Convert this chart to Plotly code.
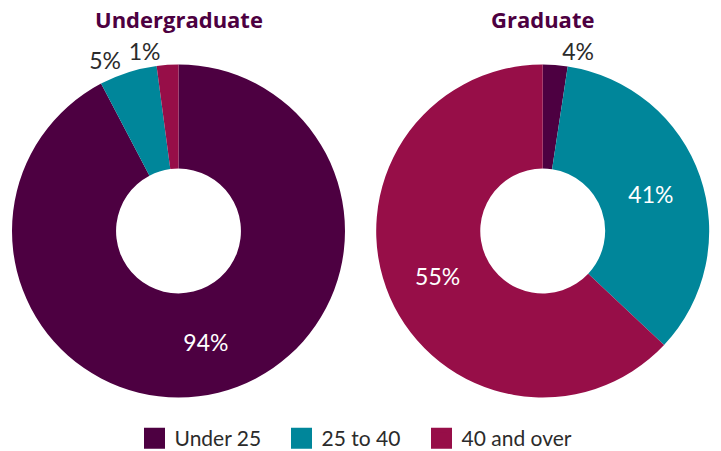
import plotly.graph_objects as go

# age bands shown in the legend
age_bands = ["Under 25", "25 to 40", "40 and over"]
colors = ["#4d0041", "#00869a", "#970e48"]

# slice sizes as drawn, and the printed labels
undergrad_share = [92.3, 5.6, 2.1]
undergrad_text = ["94%", "5%", "1%"]

grad_share = [2.4, 34.6, 63.0]
grad_text = ["4%", "41%", "55%"]

W, H = 721, 451
FONT = "Lato"
DARK = "#2b2b2b"
Y_DOM = [53.5 / H, 386.5 / H]
LEFT_DOM = [12 / W, 345 / W]
RIGHT_DOM = [375.7 / W, 709.7 / W]


def donut(values, text, pos, x_dom, fill=None):
    return go.Pie(
        labels=age_bands, values=values, text=text, textinfo="text",
        textposition=pos, hole=0.375, sort=False, direction="clockwise",
        rotation=0, marker=dict(colors=fill or colors, line=dict(width=0)),
        insidetextfont=dict(color="white", size=23, family=FONT),
        outsidetextfont=dict(color=DARK, size=23, family=FONT),
        insidetextorientation="horizontal",
        domain=dict(x=x_dom, y=Y_DOM), showlegend=False, hoverinfo="label+text",
    )


fig = go.Figure()
fig.add_trace(donut(undergrad_share, undergrad_text,
                    ["inside", "outside", "none"], LEFT_DOM))
# the "1%" label sits on its own see-through copy so plotly doesn't push it up
fig.add_trace(donut(undergrad_share, undergrad_text,
                    ["none", "none", "outside"], LEFT_DOM,
                    fill=["rgba(0,0,0,0)"] * 3))
fig.add_trace(donut(grad_share, grad_text,
                    ["outside", "inside", "inside"], RIGHT_DOM))

# legend entries (big square swatches), one legend box each
legend_x = [134.5 / W, 281.5 / W, 421.5 / W]
for i, (band, c) in enumerate(zip(age_bands, colors)):
    fig.add_trace(go.Scatter(
        x=[None], y=[None], mode="markers", name=band,
        legend="legend" if i == 0 else f"legend{i + 1}",
        marker=dict(symbol="square", size=16, color=c, line=dict(color=c, width=5)),
    ))

# chart titles above each donut
for name, cx in zip(["Undergraduate", "Graduate"], [178.5 / W, 542.7 / W]):
    fig.add_annotation(text=f"<b>{name}</b>", x=cx, y=1 - 19.5 / H,
                       xref="paper", yref="paper", xanchor="center", yanchor="middle",
                       showarrow=False,
                       font=dict(family="Open Sans", size=22, color=colors[0]))

leg = dict(orientation="h", xanchor="left", y=-8 / H, yanchor="bottom",
           font=dict(size=21, color=DARK, family=FONT), itemsizing="trace",
           itemclick=False, bgcolor="rgba(0,0,0,0)")

fig.update_layout(
    width=W, height=H, margin=dict(l=0, r=0, t=0, b=0, autoexpand=False),
    paper_bgcolor="white", plot_bgcolor="white",
    font=dict(family=FONT, color=DARK),
    xaxis=dict(visible=False), yaxis=dict(visible=False),
    legend=dict(leg, x=legend_x[0]),
    legend2=dict(leg, x=legend_x[1]),
    legend3=dict(leg, x=legend_x[2]),
)

fig.write_html("out.html", config={"displayModeBar": False},
               post_script="document.body.style.margin='0';")
